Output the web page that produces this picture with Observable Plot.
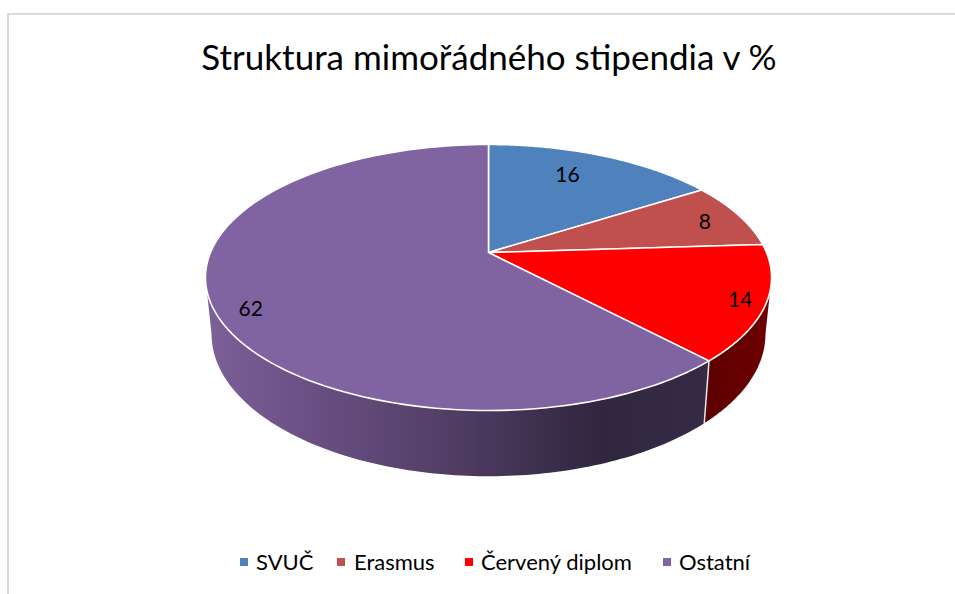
<!DOCTYPE html>
<html><head><meta charset="utf-8">
<script src="https://cdn.jsdelivr.net/npm/d3@7"></script>
<script src="https://cdn.jsdelivr.net/npm/@observablehq/plot@0.6"></script>
<style>
html,body{margin:0;padding:0;background:#fff;overflow:hidden}
body{width:955px;height:594px;position:relative;font-family:Lato,"Noto Sans",sans-serif;color:#000}
#frame{position:absolute;left:7px;top:13px;right:0;bottom:0;border-left:2px solid #d9d9d9;border-top:2px solid #d9d9d9}
#title{position:absolute;left:0;width:978px;top:33px;text-align:center;font-size:35px;line-height:46px;white-space:nowrap}
#chart{position:absolute;left:0;top:100px}
#legend{position:absolute;left:0;top:530px;width:955px;height:64px}
#legend span.k{position:absolute;top:28px;width:8px;height:8px}
#legend span.t{position:absolute;top:18px;font-size:22px;line-height:28px;white-space:nowrap}
</style></head><body>
<div id="frame"></div>
<div id="title"></div>
<div id="chart"></div>
<div id="legend"></div>
<script>
const titleText = "Struktura mimořádného stipendia v %";
const categories = ["SVUČ", "Erasmus", "Červený diplom", "Ostatní"];
const values = [16, 8, 14, 62];
const colors = ["#4f81bd", "#c0504d", "#ff0000", "#8064a2"];

// layout: perspective of the disc, label placement
const tilt = 0.188, radiusX = 278, radiusY = 128.3, lowerX = 272, lowerY = 137, lowerShift = 55;
const labelRadius = [0.75, 0.85, 0.915, 0.89], labelTurn = [-3.5, 1.2, 0.8, -5.9];
const legendKeyX = [240, 337, 465, 663], legendTextX = [256, 354, 481, 679];

const top3 = (deg, r = 1) => {
  const a = deg * Math.PI / 180, X = r * Math.sin(a), Y = r * Math.cos(a), w = 1 + tilt * Y;
  return {x: radiusX * X / w, y: -radiusY * Y / w};
};
const low3 = (deg) => {
  const a = deg * Math.PI / 180, X = Math.sin(a), Y = Math.cos(a), w = 1 + tilt * Y;
  return {x: lowerX * X / w, y: lowerShift - lowerY * Y / w};
};
const total = d3.sum(values);
let acc = 0;
const slices = values.map((v, i) => {
  const start = acc / total * 360; acc += v; const end = acc / total * 360;
  return {name: categories[i], value: v, color: colors[i], start, end};
});
const arcSteps = (a, b) => d3.range(0, 121).map(k => a + (b - a) * k / 120);
const sliceRows = slices.flatMap(s => [
  {name: s.name, color: s.color, ...top3(0, 0)},
  ...arcSteps(s.start, s.end).map(d => ({name: s.name, color: s.color, ...top3(d)})),
  {name: s.name, color: s.color, ...top3(0, 0)}
]);
const edgeAngle = Math.acos(-tilt) * 180 / Math.PI;   // silhouette of the rim
const wall = (a, b) => {
  const angles = arcSteps(a, b);
  const pts = [...angles.map(d => top3(d)), ...angles.slice().reverse().map(low3)];
  return [...pts, pts[0]];
};
const red = slices[2];
const corner = red.end;

const gradient = (id, stops) => () => {
  const g = d3.create("svg:linearGradient").attr("id", id);
  stops.forEach(([o, c]) => g.append("stop").attr("offset", o).attr("stop-color", c));
  const defs = d3.create("svg:defs"); defs.node().append(g.node());
  return defs.node();
};

document.getElementById("title").textContent = titleText;
const plot = Plot.plot({
  width: 955, height: 430, margin: 0, style: {background: "transparent", overflow: "visible"},
  x: {domain: [-488, 467], range: [0, 955], axis: null},
  y: {domain: [-152, 278], range: [0, 430], axis: null},
  marks: [
    gradient("wp", [[0, "#7c6098"], [0.2, "#6a5085"], [0.45, "#554069"], [0.78, "#30273f"], [1, "#352b45"]]),
    gradient("wr", [[0, "#5c0000"], [1, "#6e0000"]]),
    Plot.line(wall(corner, 360 - edgeAngle), {x: "x", y: "y", fill: "url(#wp)", stroke: "none"}),
    Plot.line(wall(edgeAngle, corner), {x: "x", y: "y", fill: "url(#wr)", stroke: "none"}),
    Plot.line([top3(corner), low3(corner)], {x: "x", y: "y", stroke: "#e8e8e8", strokeWidth: 1.5}),
    Plot.line(sliceRows, {x: "x", y: "y", z: "name", fill: "color", stroke: "white", strokeWidth: 1.6, strokeLinejoin: "round"}),
    Plot.text(slices.map((s, i) => ({label: String(s.value), ...top3((s.start + s.end) / 2 + labelTurn[i], labelRadius[i])})),
      {x: "x", y: "y", text: "label", fontSize: 21, fontFamily: "Lato", fill: "black"})
  ]
});
document.getElementById("chart").append(plot);

const legend = document.getElementById("legend");
categories.forEach((c, i) => {
  const k = document.createElement("span"); k.className = "k"; k.style.left = legendKeyX[i] + "px"; k.style.background = colors[i];
  const t = document.createElement("span"); t.className = "t"; t.style.left = legendTextX[i] + "px"; t.textContent = c;
  legend.append(k, t);
});
</script></body></html>
